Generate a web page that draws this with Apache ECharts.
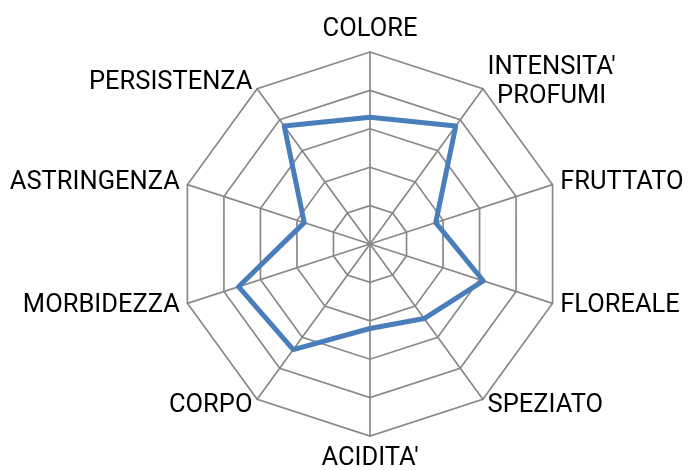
<!DOCTYPE html>
<html>
<head>
<meta charset="utf-8">
<script src="https://cdn.jsdelivr.net/npm/echarts@6/dist/echarts.min.js"></script>
<style>
  html, body { margin: 0; padding: 0; background: #fff; }
  #main { width: 691px; height: 470px; }
</style>
</head>
<body>
<div id="main"></div>
<script>
// categories, clockwise from the top as in the picture
const categories = ['COLORE', "INTENSITA'\nPROFUMI", 'FRUTTATO', 'FLOREALE', 'SPEZIATO',
  "ACIDITA'", 'CORPO', 'MORBIDEZZA', 'ASTRINGENZA', 'PERSISTENZA']
const values = [3.3, 3.8, 1.8, 3.1, 2.4, 2.2, 3.4, 3.6, 1.8, 3.8]
const maxValue = 5

// echarts walks counter-clockwise, so keep the first one and reverse the rest
const order = [0].concat(categories.map((c, i) => i).slice(1).reverse())

const labelFont = 'Roboto'
const myChart = echarts.init(document.getElementById('main'))
const option = {
  animation: false,
  radar: {
    center: [370, 244],
    radius: 192,
    startAngle: 90,
    shape: 'polygon',
    splitNumber: 5,
    indicator: order.map(i => ({ name: categories[i], min: 0, max: maxValue })),
    axisName: {
      color: '#000',
      fontFamily: labelFont,
      fontSize: 25.5,
      lineHeight: 29,
      formatter: name => name.split('\n').map(s => '{c|' + s + '}').join('\n'),
      rich: {
        c: { align: 'center', fontFamily: labelFont, fontSize: 25.5, lineHeight: 29, color: '#000' }
      }
    },
    nameGap: 8,
    axisLine: { lineStyle: { color: '#898989', width: 1.7 } },
    splitLine: { lineStyle: { color: '#898989', width: 1.7 } },
    splitArea: { show: false },
    axisTick: { show: false },
    axisLabel: { show: false }
  },
  series: [
    {
      type: 'radar',
      symbol: 'none',
      lineStyle: { color: '#4a7ebb', width: 5 },
      data: [{ value: order.map(i => values[i]) }]
    }
  ]
}
myChart.setOption(option)
</script>
</body>
</html>
